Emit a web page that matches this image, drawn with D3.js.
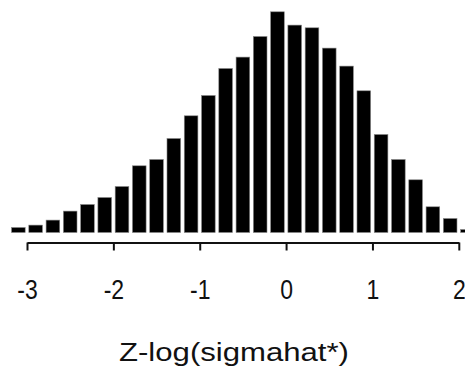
<!DOCTYPE html>
<html>
<head>
<meta charset="utf-8">
<script src="https://cdn.jsdelivr.net/npm/d3@7"></script>
<style>
  html, body { margin: 0; padding: 0; background: #fff; }
  svg { display: block; }
  text { font-family: "Liberation Sans", Arial, sans-serif; fill: #111; }
</style>
</head>
<body>
<svg id="chart" width="465" height="372"></svg>
<script>
// Bin centres (width 0.2) and bar heights (relative frequency)
const binCenters = [-3.1,-2.9,-2.7,-2.5,-2.3,-2.1,-1.9,-1.7,-1.5,-1.3,-1.1,-0.9,-0.7,-0.5,-0.3,-0.1,0.1,0.3,0.5,0.7,0.9,1.1,1.3,1.5,1.7,1.9,2.1];
const counts = [5,7.4,12.4,21.4,28,35,46,66.7,73,94,116.7,137,164,175.4,196,220.7,207.4,204.7,184.4,166.4,141.7,98,73,52.7,25.7,14,3];
const tickValues = [-3,-2,-1,0,1,2];
const tickLabels = ["-3","-2","-1","0","1","2"];
const xTitle = "Z-log(sigmahat*)";
const binWidth = 0.2;

const svg = d3.select("#chart");
const x = d3.scaleLinear().domain([-3, 2]).range([27, 458.8]);
const y = d3.scaleLinear().domain([0, 220.7]).range([232.5, 11.8]);
const barW = (x(binWidth) - x(0)) * 0.79;

svg.append("g").selectAll("rect")
  .data(binCenters)
  .join("rect")
  .attr("x", (d) => x(d) - barW / 2)
  .attr("width", barW)
  .attr("y", (d, i) => y(counts[i]))
  .attr("height", (d, i) => y(0) - y(counts[i]))
  .attr("fill", "#000")
  .attr("stroke", "#888")
  .attr("stroke-width", 0.6);

const axis = d3.axisBottom(x)
  .tickValues(tickValues)
  .tickFormat((d, i) => tickLabels[i])
  .tickSize(8)
  .tickSizeOuter(0);

const gAxis = svg.append("g")
  .attr("transform", "translate(0,242.5)")
  .call(axis);
gAxis.select(".domain").attr("stroke", "#111").attr("stroke-width", 2);
gAxis.selectAll(".tick line").attr("stroke", "#111").attr("stroke-width", 2);
gAxis.selectAll(".tick text")
  .attr("y", 0)
  .attr("dy", 0)
  .attr("transform", "translate(0,56.5) scale(1,1.22)")
  .attr("font-size", 23)
  .attr("font-family", "Liberation Sans, Arial, sans-serif")
  .attr("fill", "#222");

svg.append("text")
  .attr("x", 234)
  .attr("y", 361)
  .attr("text-anchor", "middle")
  .attr("font-size", 25.5)
  .attr("textLength", 230)
  .attr("lengthAdjust", "spacingAndGlyphs")
  .attr("fill", "#222")
  .text(xTitle);
</script>
</body>
</html>
